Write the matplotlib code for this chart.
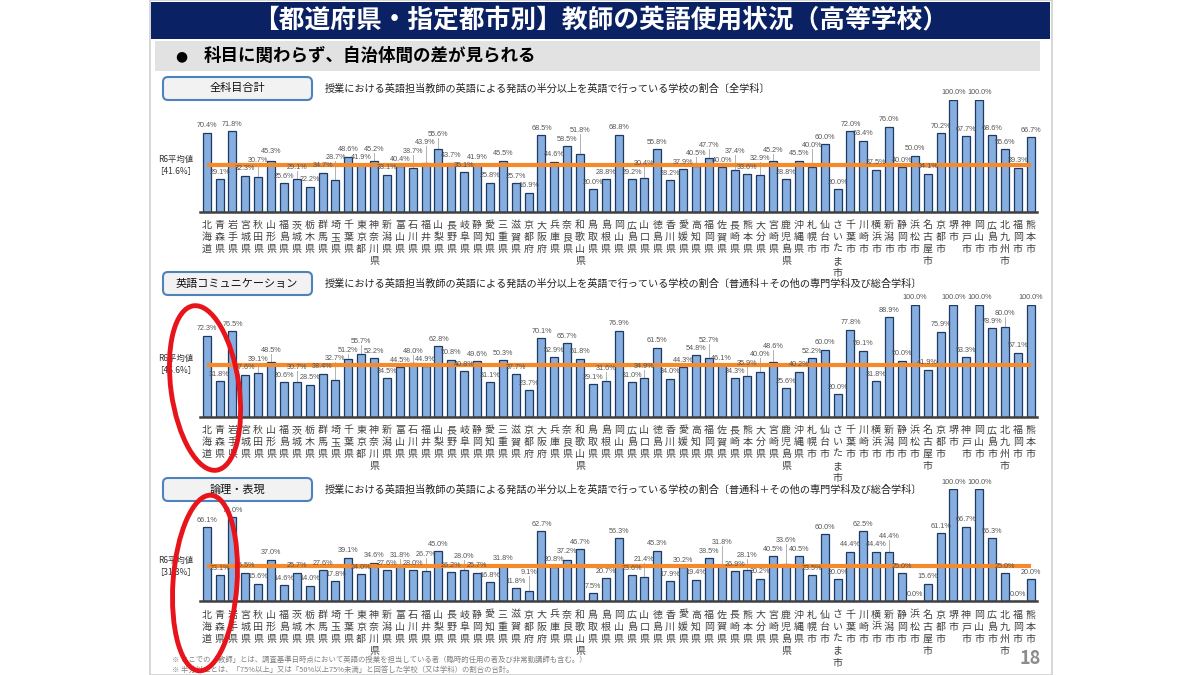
import numpy as np
import matplotlib
matplotlib.use('Agg')
import matplotlib.pyplot as plt
from matplotlib.patches import Rectangle, FancyBboxPatch, Ellipse

plt.rcParams['font.family'] = ['Noto Sans CJK JP', 'DejaVu Sans']

prefs = ['北海道', '青森県', '岩手県', '宮城県', '秋田県', '山形県', '福島県', '茨城県',
         '栃木県', '群馬県', '埼玉県', '千葉県', '東京都', '神奈川県', '新潟県', '富山県',
         '石川県', '福井県', '山梨県', '長野県', '岐阜県', '静岡県', '愛知県', '三重県',
         '滋賀県', '京都府', '大阪府', '兵庫県', '奈良県', '和歌山県', '鳥取県', '島根県',
         '岡山県', '広島県', '山口県', '徳島県', '香川県', '愛媛県', '高知県', '福岡県',
         '佐賀県', '長崎県', '熊本県', '大分県', '宮崎県', '鹿児島県', '沖縄県']
cities = ['札幌市', '仙台市', 'さいたま市', '千葉市', '川崎市', '横浜市', '新潟市', '静岡市',
          '浜松市', '名古屋市', '京都市', '堺市', '神戸市', '岡山市', '広島市', '北九州市',
          '福岡市', '熊本市']
areas = prefs + cities

# 全科目合計
all_subjects = [70.4, 29.1, 71.8, 32.3, 30.7, 45.3, 25.6, 29.1, 22.2, 34.7, 28.7, 48.6,
                41.9, 45.2, 33.1, 40.4, 38.7, 43.9, 55.6, 43.7, 35.1, 41.9, 25.8, 45.5,
                25.7, 16.9, 68.5, 44.6, 58.5, 51.8, 20.0, 28.8, 68.8, 29.2, 30.4, 55.8,
                28.2, 37.9, 40.5, 47.7, 40.0, 37.4, 33.6, 32.9, 45.2, 28.8, 45.5,
                40.0, 60.0, 20.0, 72.0, 63.4, 37.5, 76.0, 40.0, 50.0, 34.1, 70.2,
                100.0, 67.7, 100.0, 68.6, 55.6, 39.3, 66.7]
# 英語コミュニケーション
communication = [72.3, 31.8, 76.5, 37.6, 39.1, 48.5, 30.6, 30.7, 28.5, 38.4, 32.7, 51.2,
                 55.7, 52.2, 34.5, 44.5, 48.0, 44.9, 62.8, 50.8, 40.8, 49.6, 31.1, 50.3,
                 37.7, 23.7, 70.1, 52.9, 65.7, 51.8, 29.1, 31.6, 76.9, 31.0, 34.9, 61.5,
                 34.0, 44.3, 54.8, 52.7, 46.1, 34.3, 35.9, 40.0, 48.6, 25.6, 40.2,
                 52.2, 60.0, 20.0, 77.8, 59.1, 31.8, 88.9, 50.0, 100.0, 41.9, 75.9,
                 100.0, 53.3, 100.0, 78.9, 80.0, 57.1, 100.0]
# 論理・表現
logic_expression = [66.1, 23.1, 75.0, 25.5, 15.6, 37.0, 14.6, 25.7, 14.0, 27.6, 17.8, 39.1,
                    24.0, 34.6, 27.6, 31.8, 28.0, 26.7, 45.0, 26.2, 28.0, 25.7, 16.8, 31.8,
                    11.8, 9.1, 62.7, 30.8, 37.2, 46.7, 7.5, 20.7, 56.3, 23.6, 21.4, 45.3,
                    17.9, 30.2, 19.4, 38.5, 31.8, 26.9, 28.1, 20.2, 40.5, 33.6, 40.5,
                    23.5, 60.0, 20.0, 44.4, 62.5, 44.4, 44.4, 25.0, 0.0, 15.6, 61.1,
                    100.0, 66.7, 100.0, 56.3, 25.0, 0.0, 20.0]
averages = [41.6, 46.6, 31.3]

panel_names = ['全科目合計', '英語コミュニケーション', '論理・表現']
title_head = '授業における英語担当教師の英語による発話の半分以上を英語で行っている学校の割合'
panel_titles = [title_head + '〔全学科〕',
                title_head + '〔普通科＋その他の専門学科及び総合学科〕',
                title_head + '〔普通科＋その他の専門学科及び総合学科〕']

W, H = 1200, 675
fig = plt.figure(figsize=(12, 6.75), dpi=100)
fig.patch.set_facecolor('white')

bg = fig.add_axes([0, 0, 1, 1])
bg.set_xlim(0, W)
bg.set_ylim(H, 0)
bg.axis('off')

bg.add_patch(Rectangle((150, 0), 902, 675, fill=False, ec='#d0d0d0', lw=1.2))
bg.add_patch(Rectangle((151, 2), 899, 37, fc='#0a2164', ec='none'))
bg.text(601, 20, '【都道府県・指定都市別】教師の英語使用状況（高等学校）', color='white',
        fontsize=18.5, fontweight='bold', ha='center', va='center')
bg.add_patch(Rectangle((155, 41), 885, 30, fc='#e2e2e2', ec='none'))
bg.text(175, 56, '●', fontsize=10, ha='left', va='center', family=['DejaVu Sans'])
bg.text(204, 56, '科目に関わらず、自治体間の差が見られる', fontsize=12.6, fontweight='bold',
        ha='left', va='center')

# layout of the three panels (pixel rows)
base_rows = [211.7, 416.7, 601.3]
box_rows = [77, 272, 478]
px_per_pct = 1.12
step = (1030.7 - 206.7) / (len(areas) - 1)
x_left = 206.7 - 0.5 * step
x_right = 1030.7 + 0.5 * step


def draw_panel(ax, values, avg):
    x = np.arange(len(values))
    ax.bar(x, values, width=0.62, color='#86aee0', edgecolor='#1f3a60', linewidth=0.9, zorder=2)
    ax.plot([x[0], x[-1]], [avg, avg], color='#f58a2c', lw=3, zorder=3, solid_capstyle='butt')
    prev = None
    for i, v in enumerate(values):
        y = v + 3
        if prev is not None and abs(y - prev) < 7:
            y = prev + 7.5
        if y - v > 5:
            ax.plot([i, i], [v + 0.8, y], color='#a6a6a6', lw=0.6, zorder=1)
        ax.text(i, y, f'{v:.1f}%', ha='center', va='bottom', fontsize=5.2, color='#555555',
                family=['Liberation Sans'], zorder=4, clip_on=False)
        prev = y
    for i, name in enumerate(areas):
        ax.annotate('\n'.join(name), (i, 0), xytext=(0, -6), textcoords='offset points',
                    ha='center', va='top', fontsize=7.2, color='#404040', linespacing=1.25,
                    annotation_clip=False)
    ax.text(-2.4, avg, 'R6平均値\n［%.1f%%］' % avg, ha='center', va='center', fontsize=6,
            color='#333333', linespacing=1.4)
    ax.set_xlim(-0.5, len(values) - 0.5)
    ax.set_ylim(0, 100)
    for s in ['top', 'right', 'left']:
        ax.spines[s].set_visible(False)
    ax.spines['bottom'].set_color('#404040')
    ax.spines['bottom'].set_linewidth(1.8)
    ax.set_xticks([])
    ax.set_yticks([])
    ax.patch.set_alpha(0)


series = [all_subjects, communication, logic_expression]
for k in range(3):
    base = base_rows[k]
    top = base - 100 * px_per_pct
    ax = fig.add_axes([x_left / W, 1 - base / H, (x_right - x_left) / W, (base - top) / H])
    draw_panel(ax, series[k], averages[k])
    by = box_rows[k]
    bg.add_patch(FancyBboxPatch((163, by), 149, 23, boxstyle='round,pad=0,rounding_size=5',
                                fc='#f2f2f2', ec='#4f81bd', lw=1.5))
    bg.text(237, by + 11.5, panel_names[k], fontsize=8, ha='center', va='center', color='#111111')
    bg.text(325, by + 11.5, panel_titles[k], fontsize=7.3, ha='left', va='center', color='#222222')

bg.text(172, 660, '※ ここでの「教師」とは、調査基準日時点において英語の授業を担当している者（臨時的任用の者及び非常勤講師も含む。）',
        fontsize=5.3, color='#808080', ha='left', va='center')
bg.text(172, 670, '※ 半分以上とは、「75%以上」又は「50%以上75%未満」と回答した学校（又は学科）の割合の合計。',
        fontsize=5.3, color='#808080', ha='left', va='center')
bg.text(1030, 659, '18', fontsize=13, color='#8c8c8c', fontweight='bold', ha='center', va='center')

over = fig.add_axes([0, 0, 1, 1], zorder=10)
over.set_xlim(0, W)
over.set_ylim(H, 0)
over.axis('off')
over.patch.set_alpha(0)
over.add_patch(Ellipse((205, 388), 68, 166, angle=-8, fill=False, ec='#e8141b', lw=3.5))
over.add_patch(Ellipse((205, 583), 64, 176, angle=4, fill=False, ec='#e8141b', lw=3.5))

fig.savefig('out.png', dpi=100)
